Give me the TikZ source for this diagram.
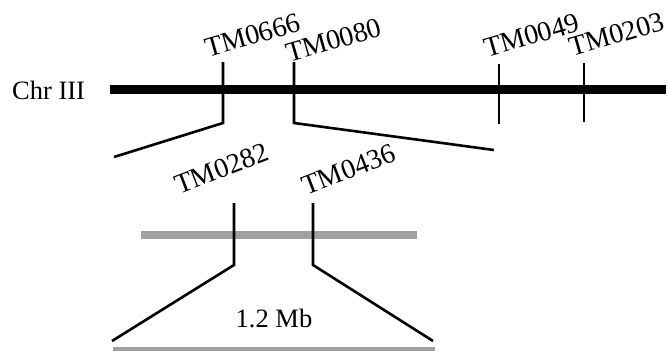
\documentclass[tikz,border=0pt]{standalone}
\usepackage{fontspec}
\setmainfont{Liberation Serif}
\definecolor{bargray}{RGB}{160,160,160}
\begin{document}
\begin{tikzpicture}[x=1pt,y=-1pt,
  lbl/.style={font=\fontsize{28}{32}\selectfont, inner sep=0pt, anchor=south west},
  plain/.style={font=\fontsize{26.5}{30}\selectfont, inner sep=0pt},
  tick/.style={line width=2.6pt, black},
  chrbar/.style={line width=9pt, black},
  graybar/.style={line width=8pt, bargray}]
\useasboundingbox (0,0) rectangle (667,351);
% chromosome
\coordinate (c0) at (110,89);
\coordinate (c1) at (666,89);
\draw[chrbar] (c0) -- (c1);
\node[plain, anchor=base west] (chr) at (12,99) {Chr III};
% top markers
\coordinate (a1) at (223,62); \coordinate (a2) at (223,123); \coordinate (a3) at (114,157);
\coordinate (b1) at (294,62); \coordinate (b2) at (294,123); \coordinate (b3) at (494,150);
\coordinate (d1) at (499,64); \coordinate (d2) at (499,124);
\coordinate (e1) at (584,63); \coordinate (e2) at (584,122);
\draw[tick] (a1) -- (a2) -- (a3);
\draw[tick] (b1) -- (b2) -- (b3);
\draw[tick] (d1) -- (d2);
\draw[tick] (e1) -- (e2);
\node[lbl, rotate=16] (m0666) at (208,58) {TM0666};
\node[lbl, rotate=16] (m0080) at (289,63) {TM0080};
\node[lbl, rotate=16] (m0049) at (487,58) {TM0049};
\node[lbl, rotate=16] (m0203) at (572,57) {TM0203};
% middle gray bar
\coordinate (g0) at (141,235); \coordinate (g1) at (417,235);
\draw[graybar] (g0) -- (g1);
\coordinate (p1) at (234,203); \coordinate (p2) at (234,265); \coordinate (p3) at (112,341);
\coordinate (q1) at (313,203); \coordinate (q2) at (313,265); \coordinate (q3) at (433,341);
\draw[tick] (p1) -- (p2) -- (p3);
\draw[tick] (q1) -- (q2) -- (q3);
\node[lbl, rotate=21] (m0282) at (179,195) {TM0282};
\node[lbl, rotate=21] (m0436) at (306,196) {TM0436};
\node[plain, anchor=base] (mb) at (274,327) {1.2 Mb};
% bottom gray bar
\fill[bargray] (113,347) rectangle (435,351);
\end{tikzpicture}
\end{document}
